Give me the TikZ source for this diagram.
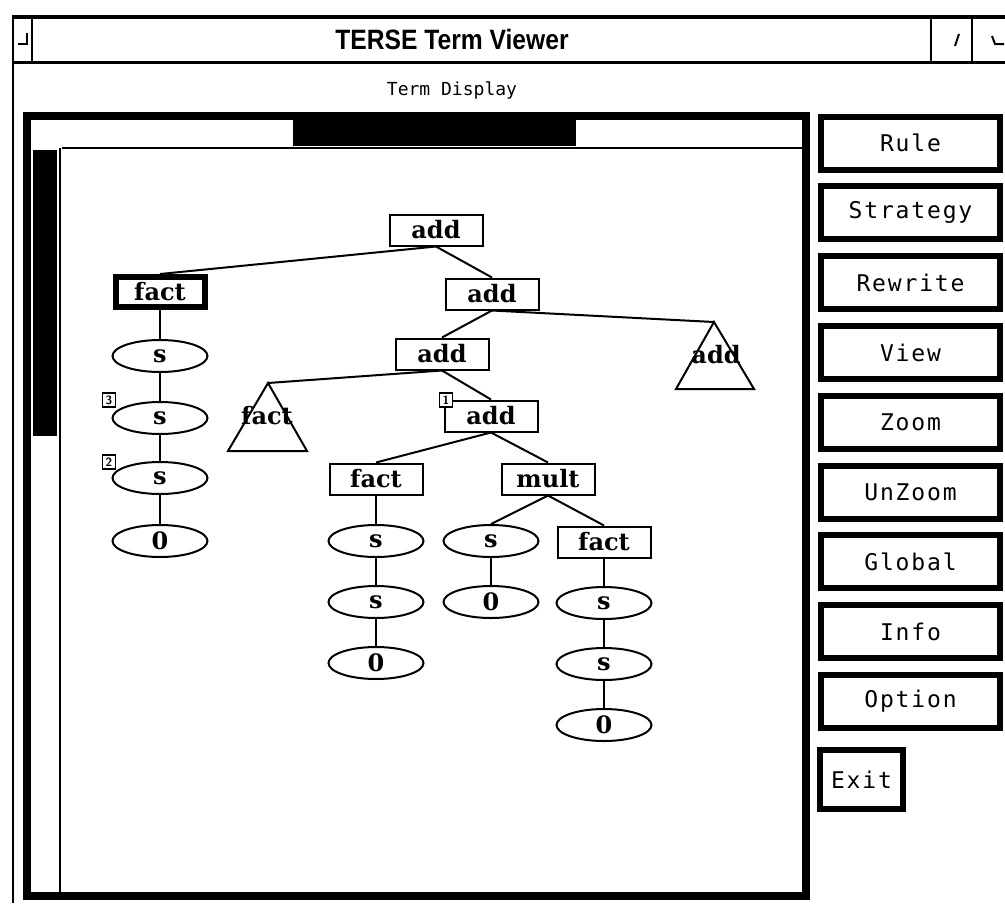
\documentclass[tikz,border=0pt]{standalone}
\usepackage{fontspec}
\usetikzlibrary{shapes.geometric}
\newfontfamily\titlefnt{Liberation Sans}[FakeStretch=0.88]
\newfontfamily\monofnt{DejaVu Sans Mono}
\newfontfamily\btnfnt{DejaVu Sans Mono}[LetterSpace=8]
\newfontfamily\termfnt{DejaVu Serif}
\tikzset{
  rule/.style={line width=2pt},
  termbox/.style={draw, line width=2pt, fill=white, minimum width=93pt, minimum height=31pt,
    inner sep=0pt, font=\termfnt\bfseries\fontsize{24}{26}\selectfont},
  focusbox/.style={termbox, line width=6pt, minimum width=89pt, minimum height=30pt},
  termoval/.style={ellipse, draw, line width=2pt, fill=white, minimum width=95pt,
    minimum height=32pt, inner sep=0pt, font=\termfnt\bfseries\fontsize{24}{26}\selectfont},
  subtree/.style={line width=2pt, line join=miter},
  treelabel/.style={inner sep=0pt, font=\termfnt\bfseries\fontsize{24}{26}\selectfont},
  marker/.style={draw, line width=1.8pt, fill=white, minimum width=13pt, minimum height=14pt,
    inner sep=0pt, font=\sffamily\bfseries\fontsize{12}{12}\selectfont},
  btn/.style={draw, line width=6pt, minimum width=179pt, minimum height=53pt, inner sep=0pt,
    font=\btnfnt\fontsize{23}{26}\selectfont},
  edge/.style={line width=2pt}
}
\begin{document}
\begin{tikzpicture}[x=1pt,y=-1pt]
\useasboundingbox (0,0) rectangle (1005,906);

% window frame and title bar
\draw[line width=3.5pt] (13,17) -- (1005,17);
\draw[line width=3pt] (13,62) -- (1005,62);
\draw[rule] (13,15) -- (13,903);
\draw[line width=2.5pt] (32,17) -- (32,62);
\draw[line width=2.5pt] (931,17) -- (931,62);
\draw[line width=2.5pt] (972,17) -- (972,62);
\draw[rule] (18,44) -- (27,44) -- (27,33);
\draw[rule] (955,46) -- (959,34);
\draw[rule] (992,36) -- (995,44) -- (1004,44);
\node (title) at (452,39) {\titlefnt\bfseries\fontsize{28}{30}\selectfont TERSE Term Viewer};
\node (caption) at (452,90) {\monofnt\fontsize{18}{20}\selectfont Term Display};

% display panel with its scroll bars
\draw[line width=8pt] (27,116) rectangle (806,896);
\fill (293,120) rectangle (576,146);
\fill (33,150) rectangle (57,436);
\draw[line width=2.5pt] (62,148) -- (802,148);
\draw[rule] (60,148) -- (60,892);

% command buttons
\node[btn] (bRule)     at (910.5,143)   {Rule};
\node[btn] (bStrategy) at (910.5,212.5) {Strategy};
\node[btn] (bRewrite)  at (910.5,282.5) {Rewrite};
\node[btn] (bView)     at (910.5,352.5) {View};
\node[btn] (bZoom)     at (910.5,422.5) {Zoom};
\node[btn] (bUnZoom)   at (910.5,492)   {UnZoom};
\node[btn] (bGlobal)   at (910.5,561.5) {Global};
\node[btn] (bInfo)     at (910.5,631.5) {Info};
\node[btn] (bOption)   at (910.5,701)   {Option};
\node[btn, minimum width=83pt, minimum height=59pt] (bExit) at (861.5,779.5) {Exit};

% term tree: nodes
\node[termbox] (root) at (436,230) {add};
\node[focusbox] (f1) at (160,292) {fact};
\node[termbox] (a2) at (492,294) {add};
\node[termbox] (a3) at (442,354) {add};
\node[termbox] (a4) at (491,416) {add};
\node[termbox] (f2) at (376,479) {fact};
\node[termbox] (m1) at (548,479) {mult};
\node[termbox] (f3) at (604,542) {fact};

\node[termoval] (s1) at (160,356) {s};
\node[termoval] (s2) at (160,418) {s};
\node[termoval] (s3) at (160,478) {s};
\node[termoval] (z1) at (160,541) {0};

\node[termoval] (s4) at (376,541) {s};
\node[termoval] (s5) at (376,602) {s};
\node[termoval] (z2) at (376,663) {0};

\node[termoval] (s6) at (491,541) {s};
\node[termoval] (z3) at (491,602) {0};

\node[termoval] (s7) at (604,603) {s};
\node[termoval] (s8) at (604,664) {s};
\node[termoval] (z4) at (604,725) {0};

% collapsed subterms
\coordinate (tAdd) at (714,322);
\coordinate (tFact) at (268,383);
\draw[subtree] (tAdd) -- (676,389) -- (754,389) -- cycle;
\draw[subtree] (tFact) -- (228,451) -- (307,451) -- cycle;
\node[treelabel] (tAddLbl) at (716,355) {add};
\node[treelabel] (tFactLbl) at (267,416) {fact};

% term tree: edges
\draw[edge] (root.south) -- (f1.north);
\draw[edge] (root.south) -- (a2.north);
\draw[edge] (a2.south) -- (a3.north);
\draw[edge] (a2.south) -- (tAdd);
\draw[edge] (a3.south) -- (tFact);
\draw[edge] (a3.south) -- (a4.north);
\draw[edge] (a4.south) -- (f2.north);
\draw[edge] (a4.south) -- (m1.north);
\draw[edge] (m1.south) -- (s6.north);
\draw[edge] (m1.south) -- (f3.north);
\draw[edge] (f1.south) -- (s1.north);
\draw[edge] (s1.south) -- (s2.north);
\draw[edge] (s2.south) -- (s3.north);
\draw[edge] (s3.south) -- (z1.north);
\draw[edge] (f2.south) -- (s4.north);
\draw[edge] (s4.south) -- (s5.north);
\draw[edge] (s5.south) -- (z2.north);
\draw[edge] (s6.south) -- (z3.north);
\draw[edge] (f3.south) -- (s7.north);
\draw[edge] (s7.south) -- (s8.north);
\draw[edge] (s8.south) -- (z4.north);

% position markers
\node[marker] (k3) at (109,400) {3};
\node[marker] (k2) at (109,462) {2};
\node[marker] (k1) at (446,400) {1};
\end{tikzpicture}
\end{document}
